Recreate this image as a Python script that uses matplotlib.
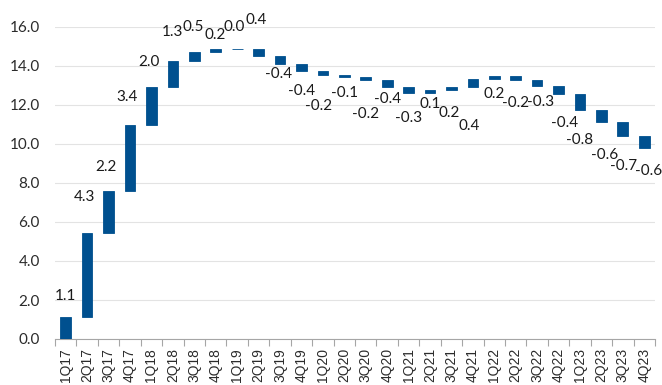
import matplotlib.pyplot as plt
import numpy as np

quarters = ['1Q17', '2Q17', '3Q17', '4Q17', '1Q18', '2Q18', '3Q18', '4Q18',
            '1Q19', '2Q19', '3Q19', '4Q19', '1Q20', '2Q20', '3Q20', '4Q20',
            '1Q21', '2Q21', '3Q21', '4Q21', '1Q22', '2Q22', '3Q22', '4Q22',
            '1Q23', '2Q23', '3Q23', '4Q23']
# quarterly change
changes = [1.12, 4.30, 2.18, 3.37, 1.96, 1.31, 0.46, 0.17,
           0.02, -0.38, -0.39, -0.40, -0.18, -0.09, -0.16, -0.36,
           -0.29, 0.12, 0.18, 0.38, 0.17, -0.20, -0.32, -0.40,
           -0.84, -0.60, -0.74, -0.60]
value_labels = ['1.1', '4.3', '2.2', '3.4', '2.0', '1.3', '0.5', '0.2',
                '0.0', '0.4', '-0.4', '-0.4', '-0.2', '-0.1', '-0.2', '-0.4',
                '-0.3', '0.1', '0.2', '0.4', '0.2', '-0.2', '-0.3', '-0.4',
                '-0.8', '-0.6', '-0.7', '-0.6']

# label placement, pixels from the bar end (positive dy = above the top)
label_dx = [0, -2.5, -2.5, -2.5, -2.5, 0, -1, -1, -2.5, -2,
            -1.5, 0, -4, 0, 0, 0, 0, 0, -2, -4,
            0, 0, 3.5, 6, 0, 3, 1, 4]
label_dy = [21, 36, 24, 28, 25, 29, 25, 14, 22, 29,
            -10, -20, -31, -16, -34, -12, -25, -11, -23, -39,
            -15, -23, -16, -29, -30, -33, -30, -23]

blue = '#00508f'
x = np.arange(len(quarters))
ends = np.cumsum(changes)
starts = ends - np.array(changes)

plt.rcParams['font.family'] = ['Lato', 'DejaVu Sans']
fig = plt.figure(figsize=(6.62, 3.85), dpi=100)
ax = fig.add_axes([55 / 662, 46 / 385, 600 / 662, 312 / 385])

ax.bar(x, changes, bottom=starts, width=0.5, color=blue,
       edgecolor=blue, linewidth=0.6, zorder=3)

for i in range(len(x)):
    top = max(starts[i], ends[i])
    bot = min(starts[i], ends[i])
    anchor = top if label_dy[i] > 0 else bot
    ax.annotate(value_labels[i], (x[i], anchor),
                xytext=(label_dx[i], label_dy[i]), textcoords='offset pixels',
                ha='center', va='center', fontsize=11, color='#1a1a1a',
                annotation_clip=False)

ax.set_xlim(-0.5, len(x) - 0.5)
ax.set_ylim(0, 16)
ax.set_yticks(np.arange(0, 17, 2))
ax.set_yticklabels([f'{v:.1f}' for v in np.arange(0, 17, 2)])
ax.yaxis.grid(True, color='#e3e3e3', linewidth=0.8, zorder=0)
ax.set_axisbelow(True)

ax.set_xticks(x)
ax.set_xticklabels(quarters, rotation=90, family='Liberation Sans',
                   fontsize=10, color='#2b2b2b')
ax.set_xticks(np.arange(-0.5, len(x), 1), minor=True)
ax.tick_params(axis='x', which='major', length=0, pad=6.5)
ax.tick_params(axis='x', which='minor', length=5, color='#a6a6a6', width=0.8)
ax.tick_params(axis='y', length=0, pad=11, labelsize=11, labelcolor='#2b2b2b')

for s in ['top', 'right', 'left']:
    ax.spines[s].set_visible(False)
ax.spines['bottom'].set_color('#a6a6a6')
ax.spines['bottom'].set_linewidth(0.8)

fig.savefig('out.png', dpi=100)
